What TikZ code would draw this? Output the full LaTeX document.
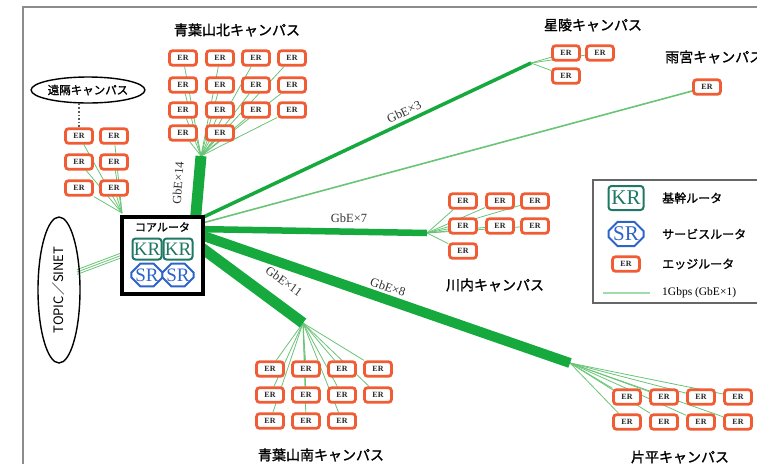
\documentclass[tikz,border=0pt]{standalone}
\usepackage{fontspec}
\setmainfont{Liberation Serif}
\newfontfamily\jp[AutoFakeBold=1.2]{Noto Sans CJK JP}
\usetikzlibrary{shapes.misc,shapes.geometric,backgrounds,calc}
\definecolor{erc}{RGB}{240,92,52}
\definecolor{krc}{RGB}{30,120,100}
\definecolor{src}{RGB}{45,100,200}
\definecolor{trunkc}{RGB}{22,170,62}
\definecolor{thinc}{RGB}{105,196,118}
\definecolor{leglc}{RGB}{160,220,170}
\definecolor{framec}{RGB}{140,140,140}
\tikzset{
  erbox/.style={rectangle, rounded corners=3pt, draw=erc, line width=2.8pt, fill=white,
    minimum width=27pt, minimum height=14.5pt, inner sep=0pt, text=black!85,
    font=\bfseries\fontsize{8}{8}\selectfont},
  krbox/.style={rectangle, rounded corners=3pt, draw=krc, line width=2pt, fill=white,
    minimum width=29pt, minimum height=21pt, inner sep=0pt, text=krc,
    font=\fontsize{19}{19}\selectfont},
  srbox/.style={chamfered rectangle, chamfered rectangle xsep=4pt, chamfered rectangle ysep=5pt,
    draw=src, line width=2pt, fill=white, minimum width=29pt, minimum height=21pt,
    inner sep=0pt, text=src, font=\fontsize{19}{19}\selectfont},
  ttl/.style={inner sep=0pt, font=\jp\bfseries\fontsize{14}{16}\selectfont},
  legtxt/.style={inner sep=0pt, anchor=west, font=\jp\bfseries\fontsize{12}{14}\selectfont},
  gbe/.style={inner sep=0pt, font=\fontsize{12.5}{13}\selectfont, text=black!80},
  fan/.style={draw=thinc, line width=0.8pt},
  trunk/.style={draw=trunkc},
}
\begin{document}
\begin{tikzpicture}[x=1pt,y=-1pt]
\useasboundingbox (0,0) rectangle (757,464);
% frame
\draw[framec, line width=1.2pt] (23,464) -- (23,7) -- (757,7);

% core router
\node[draw=black, line width=4pt, fill=white, minimum width=81pt, minimum height=77pt, inner sep=0pt] (core) at (162.5,255.5) {};
\node[inner sep=0pt, font=\jp\bfseries\fontsize{11}{12}\selectfont] (corelbl) at (162.5,227) {コアルータ};
\node[krbox] (kr1) at (147,249) {KR};
\node[krbox] (kr2) at (178,249) {KR};
\node[srbox] (sr1) at (147,275) {SR};
\node[srbox] (sr2) at (178,275) {SR};

% trunk start coordinates (inside core box)
\coordinate (sN) at (195,225);
\coordinate (sSe) at (195,221);
\coordinate (sAm) at (195,225);
\coordinate (sKw) at (195,229);
\coordinate (sKt) at (195,233);
\coordinate (sAs) at (195,243);
% apexes
\coordinate (anA) at (201,156);
\coordinate (lrA) at (122,213);
\coordinate (seA) at (531,63);
\coordinate (kwA) at (427,233);
\coordinate (asA) at (303,323);
\coordinate (ktA) at (570,363);

% Aoba north
\node[ttl] (antitle) at (237,30) {青葉山北キャンパス};
\foreach \r/\y in {1/58,2/85,3/110}{
  \foreach \c/\x in {1/183,2/220,3/256,4/292}{
    \node[erbox] (an\r\c) at (\x,\y) {ER};
  }
}
\node[erbox] (an41) at (183,133) {ER};
\node[erbox] (an42) at (220,133) {ER};

% remote campus
\node[ellipse, draw, line width=1.4pt, minimum width=104pt, minimum height=26pt, inner sep=0pt,
  font=\jp\bfseries\fontsize{11.5}{12}\selectfont] (remote) at (88,90) {遠隔キャンパス};
\foreach \r/\y in {1/136,2/162,3/188}{
  \foreach \c/\x in {1/79,2/114}{
    \node[erbox] (lr\r\c) at (\x,\y) {ER};
  }
}
\draw[dotted, line width=1.6pt, black!65] (remote.south -| lr11.north) -- (lr11.north);

% TOPIC/SINET
\node[ellipse, draw, line width=1.4pt, rotate=90, minimum width=146pt, minimum height=42pt, inner sep=0pt,
  font=\jp\fontsize{13}{14}\selectfont] (topic) at (59,290) {TOPIC／SINET};
\coordinate (tpa) at (77,272);
\coordinate (tpb) at (125,254);

% Seiryo
\node[ttl] (setitle) at (593,25) {星陵キャンパス};
\node[erbox] (se1) at (566,53) {ER};
\node[erbox] (se2) at (600,53) {ER};
\node[erbox] (se3) at (566,76) {ER};

% Amamiya
\node[ttl, anchor=west] (amtitle) at (665,57) {雨宮キャンパス};
\node[erbox] (am1) at (707,87) {ER};

% Kawauchi
\node[ttl] (kwtitle) at (495,285) {川内キャンパス};
\foreach \r/\y in {1/201,2/226}{
  \foreach \c/\x in {1/463,2/500,3/535}{
    \node[erbox] (kw\r\c) at (\x,\y) {ER};
  }
}
\node[erbox] (kw31) at (463,251) {ER};

% Aoba south
\node[ttl] (astitle) at (321,455) {青葉山南キャンパス};
\foreach \r/\y in {1/369,2/395}{
  \foreach \c/\x in {1/270,2/306,3/342,4/378}{
    \node[erbox] (as\r\c) at (\x,\y) {ER};
  }
}
\foreach \c/\x in {1/270,2/306,3/342}{
  \node[erbox] (as3\c) at (\x,421) {ER};
}

% Katahira
\node[ttl] (kttitle) at (680,457) {片平キャンパス};
\foreach \r/\y in {1/397,2/422}{
  \foreach \c/\x in {1/627,2/664,3/701,4/738}{
    \node[erbox] (kt\r\c) at (\x,\y) {ER};
  }
}

% labels
\node[gbe, rotate=86] (l14) at (178,183) {GbE×14};
\node[gbe, rotate=25] (l3) at (404,112) {GbE×3};
\node[gbe] (l7) at (349,218) {GbE×7};
\node[gbe, rotate=-19] (l8) at (388,287) {GbE×8};
\node[gbe, rotate=-36] (l11) at (284,281) {GbE×11};

% legend
\draw[line width=1.5pt, black!60] (593,180) rectangle (765,303);
\node[krbox, minimum width=35pt, minimum height=24pt, font=\fontsize{21}{21}\selectfont] (lkr) at (626,198) {KR};
\node[srbox, minimum width=35pt, minimum height=24pt, font=\fontsize{21}{21}\selectfont] (lsr) at (626,234) {SR};
\node[erbox] (ler) at (626,264) {ER};
\coordinate (lla) at (603,293);
\coordinate (llb) at (650,293);
\node[legtxt] (lt1) at (662,198) {基幹ルータ};
\node[legtxt] (lt2) at (662,234) {サービスルータ};
\node[legtxt] (lt3) at (662,264) {エッジルータ};
\node[inner sep=0pt, anchor=west, font=\fontsize{11.5}{12}\selectfont] (lt4) at (662,293) {1Gbps (GbE×1)};

\begin{scope}[on background layer]
  % fans
  \foreach \n in {an11,an12,an13,an14,an21,an22,an23,an24,an31,an32,an33,an34,an41,an42}
    \draw[fan] (anA) -- (\n);
  \foreach \n in {lr11,lr12,lr21,lr22,lr31,lr32}
    \draw[fan] (lrA) -- (\n);
  \foreach \n in {se1,se2,se3}
    \draw[fan] (seA) -- (\n);
  \foreach \n in {kw11,kw12,kw13,kw21,kw22,kw23,kw31}
    \draw[fan] (kwA) -- (\n);
  \foreach \n in {as11,as12,as13,as14,as21,as22,as23,as24,as31,as32,as33}
    \draw[fan] (asA) -- (\n);
  \foreach \n in {kt11,kt12,kt13,kt14,kt21,kt22,kt23,kt24}
    \draw[fan] (ktA) -- (\n);
  \foreach \s in {-2.4,0,2.4}
    \draw[fan] ([yshift=\s pt]tpa) -- ([yshift=\s pt]tpb);
  % trunks
  \draw[trunk, line width=11pt] (sN) -- (anA);
  \draw[trunk, line width=3.5pt] (sSe) -- (seA);
  \draw[fan, line width=1.6pt] (sAm) -- (am1);
  \draw[trunk, line width=6.5pt] (sKw) -- (kwA);
  \draw[trunk, line width=10pt] (sKt) -- (ktA);
  \draw[trunk, line width=11pt] (sAs) -- (asA);
  \draw[leglc, line width=2.5pt] (lla) -- (llb);
\end{scope}
\end{tikzpicture}
\end{document}
